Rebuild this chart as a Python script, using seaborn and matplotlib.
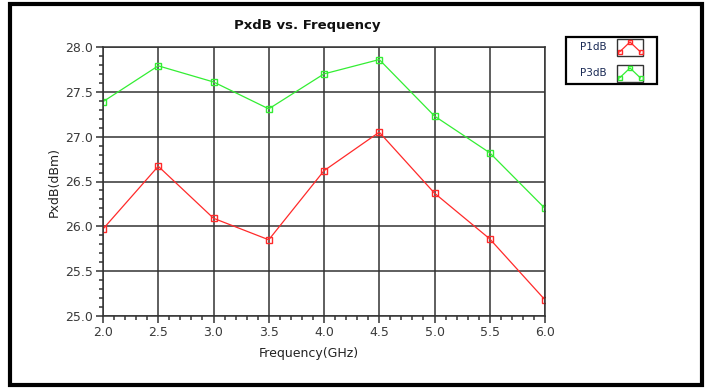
import pandas as pd
import matplotlib
matplotlib.use('Agg')
import matplotlib.pyplot as plt
import seaborn as sns
from matplotlib.ticker import MultipleLocator, AutoMinorLocator
from matplotlib.patches import Rectangle
from matplotlib.lines import Line2D

# 数据
freq = [2.0, 2.5, 3.0, 3.5, 4.0, 4.5, 5.0, 5.5, 6.0]
p1db = [25.97, 26.67, 26.09, 25.85, 26.62, 27.05, 26.37, 25.86, 25.18]
p3db = [27.39, 27.79, 27.61, 27.31, 27.70, 27.86, 27.23, 26.82, 26.20]
series = ['P1dB', 'P3dB']
colors = {'P1dB': '#ff2a2a', 'P3dB': '#33ee33'}

df = pd.DataFrame({
    'freq': freq * 2,
    'val': p1db + p3db,
    'name': ['P1dB'] * len(freq) + ['P3dB'] * len(freq),
})

sns.set_style('white')
plt.rcParams['font.family'] = ['DejaVu Sans']

W, H = 712, 389
fig = plt.figure(figsize=(W / 100, H / 100), dpi=100)
ax = fig.add_axes([103 / W, 1 - 316 / H, (545 - 103) / W, (316 - 47) / H])

sns.lineplot(data=df, x='freq', y='val', hue='name', palette=colors,
             marker='s', markersize=4.5, markerfacecolor='none',
             markeredgewidth=1.0, linewidth=0.9, ax=ax, legend=False)
# 空心方块的边色
for line, s in zip(ax.lines, series):
    line.set_markeredgecolor(colors[s])

ax.set_xlim(2.0, 6.0)
ax.set_ylim(25.0, 28.0)
ax.xaxis.set_major_locator(MultipleLocator(0.5))
ax.yaxis.set_major_locator(MultipleLocator(0.5))
ax.xaxis.set_minor_locator(AutoMinorLocator(5))
ax.yaxis.set_minor_locator(AutoMinorLocator(5))
ax.xaxis.set_major_formatter(plt.FormatStrFormatter('%.1f'))
ax.yaxis.set_major_formatter(plt.FormatStrFormatter('%.1f'))
ax.grid(True, which='major', color='#333333', linewidth=1.1)
ax.tick_params(which='both', direction='out', bottom=True, left=True,
               colors='#333333', labelsize=9, labelcolor='#3a3a3a', width=1.1)
ax.tick_params(which='major', length=5, pad=2)
ax.tick_params(which='minor', length=3)
for sp in ax.spines.values():
    sp.set_color('#333333')
    sp.set_linewidth(1.1)

ax.set_xlabel('Frequency(GHz)', fontsize=9, color='#222222')
ax.xaxis.set_label_coords((309 - 103) / (545 - 103), -0.115)
ax.set_ylabel('PxdB(dBm)', fontsize=9, color='#222222')
ax.yaxis.set_label_coords(-0.095, 0.5)

fig.text(307 / W, 1 - 26 / H, 'PxdB vs. Frequency', ha='center', va='center',
         fontsize=9.5, fontweight='bold', color='#111111')


# 图例（手工画，标签在左，图标带框）
def px(x, y):
    return x / W, 1 - y / H


fig.patches.append(Rectangle(px(566, 84), (657 - 566) / W, (84 - 37) / H,
                             transform=fig.transFigure, fill=False,
                             edgecolor='black', linewidth=1.6))
for i, s in enumerate(series):
    yc = 47 + i * 26
    fig.text(*px(593, yc), s, ha='center', va='center', fontsize=7.5,
             color='#1a2a55')
    fig.patches.append(Rectangle(px(617, yc + 8.5), 26 / W, 17 / H,
                                 transform=fig.transFigure, fill=False,
                                 edgecolor='#333333', linewidth=1.0))
    xs, ys = zip(px(619.5, yc + 5), px(630, yc - 5), px(640.5, yc + 5))
    fig.add_artist(Line2D(xs, ys, transform=fig.transFigure, color=colors[s],
                          marker='s', markersize=3.2, markerfacecolor='none',
                          linewidth=0.9))

# 外框
fig.patches.append(Rectangle((10 / W, 4 / H), (702 - 10) / W, (385 - 4) / H,
                             transform=fig.transFigure, fill=False,
                             edgecolor='black', linewidth=3))

fig.savefig('out.png', dpi=100)
